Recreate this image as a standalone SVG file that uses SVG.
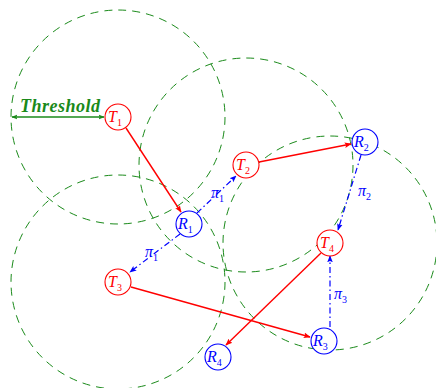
<svg xmlns="http://www.w3.org/2000/svg" width="436" height="388" viewBox="0 0 436 388">
<style>
.rng{fill:none;stroke:#1a8a1a;stroke-width:1;stroke-dasharray:8,6}
.tx{fill:#fff;stroke:#f00;stroke-width:1.1}
.rx{fill:#fff;stroke:#00f;stroke-width:1.1}
.lt{font-family:"Liberation Serif",serif;font-style:italic;font-size:16px;fill:#f00}
.lr{font-family:"Liberation Serif",serif;font-style:italic;font-size:16px;fill:#00f}
.sub{font-style:normal;font-size:10px}
.red{stroke:#f00;stroke-width:1.4;fill:none;marker-end:url(#ar)}
.blue{stroke:#00f;stroke-width:1.2;fill:none;stroke-dasharray:6,3,1.5,3;marker-end:url(#ab)}
.pi{font-family:"Liberation Serif",serif;font-style:italic;font-size:16px;fill:#00f}
.pis{font-style:normal;font-size:10px}
</style>
<defs>
<marker id="ar" viewBox="0 0 10 10" refX="9" refY="5" markerWidth="7" markerHeight="7" orient="auto" markerUnits="userSpaceOnUse"><path d="M0,1 L10,5 L0,9 L2,5 Z" fill="#f00"/></marker>
<marker id="ab" viewBox="0 0 10 10" refX="9" refY="5" markerWidth="7" markerHeight="7" orient="auto" markerUnits="userSpaceOnUse"><path d="M0,1 L10,5 L0,9 L2,5 Z" fill="#00f"/></marker>
<marker id="ag" viewBox="0 0 10 10" refX="9" refY="5" markerWidth="6" markerHeight="6" orient="auto-start-reverse" markerUnits="userSpaceOnUse"><path d="M0,1 L10,5 L0,9 L2,5 Z" fill="#1a8a1a"/></marker>
</defs>
<g id="ranges">
<circle class="rng" cx="118" cy="117" r="107"/>
<circle class="rng" cx="246" cy="165" r="107"/>
<circle class="rng" cx="118" cy="282" r="107"/>
<circle class="rng" cx="330" cy="243" r="107"/>
</g>
<g id="threshold">
<line x1="12" y1="117" x2="104" y2="117" stroke="#1a8a1a" stroke-width="1.3" marker-start="url(#ag)" marker-end="url(#ag)"/>
<text x="20" y="112" font-family="Liberation Serif,serif" font-style="italic" font-weight="bold" font-size="18" fill="#1a8a1a" textLength="80">Threshold</text>
</g>
<g id="connectors">
<line class="red" x1="126" y1="128" x2="181" y2="212"/>
<line class="red" x1="259" y1="162" x2="351" y2="144"/>
<line class="red" x1="131" y1="287" x2="310" y2="337"/>
<line class="red" x1="321" y1="253" x2="226" y2="345"/>
<line class="blue" x1="197" y1="213" x2="236" y2="176"/>
<line class="blue" x1="180" y1="234" x2="130" y2="272"/>
<line class="blue" x1="361" y1="155" x2="338" y2="230"/>
<line class="blue" x1="330" y1="327" x2="330" y2="256"/>
<text class="pi" x="211" y="198">π<tspan class="pis" dy="4">1</tspan></text>
<text class="pi" x="145" y="257">π<tspan class="pis" dy="4">1</tspan></text>
<text class="pi" x="358" y="196">π<tspan class="pis" dy="4">2</tspan></text>
<text class="pi" x="334" y="299">π<tspan class="pis" dy="4">3</tspan></text>
</g>
<g id="T1"><circle class="tx" cx="118" cy="117" r="13"/><text class="lt" x="108" y="122">T<tspan class="sub" dy="4">1</tspan></text></g>
<g id="T2"><circle class="tx" cx="246" cy="165" r="13"/><text class="lt" x="236" y="170">T<tspan class="sub" dy="4">2</tspan></text></g>
<g id="T3"><circle class="tx" cx="118" cy="282" r="13"/><text class="lt" x="108" y="287">T<tspan class="sub" dy="4">3</tspan></text></g>
<g id="T4"><circle class="tx" cx="330" cy="243" r="13"/><text class="lt" x="320" y="248">T<tspan class="sub" dy="4">4</tspan></text></g>
<g id="R1"><circle class="rx" cx="189" cy="224" r="13"/><text class="lr" x="178" y="229">R<tspan class="sub" dy="4">1</tspan></text></g>
<g id="R2"><circle class="rx" cx="365" cy="142" r="13"/><text class="lr" x="354" y="147">R<tspan class="sub" dy="4">2</tspan></text></g>
<g id="R3"><circle class="rx" cx="324" cy="341" r="13"/><text class="lr" x="313" y="346">R<tspan class="sub" dy="4">3</tspan></text></g>
<g id="R4"><circle class="rx" cx="218" cy="357" r="13"/><text class="lr" x="207" y="362">R<tspan class="sub" dy="4">4</tspan></text></g>
</svg>
